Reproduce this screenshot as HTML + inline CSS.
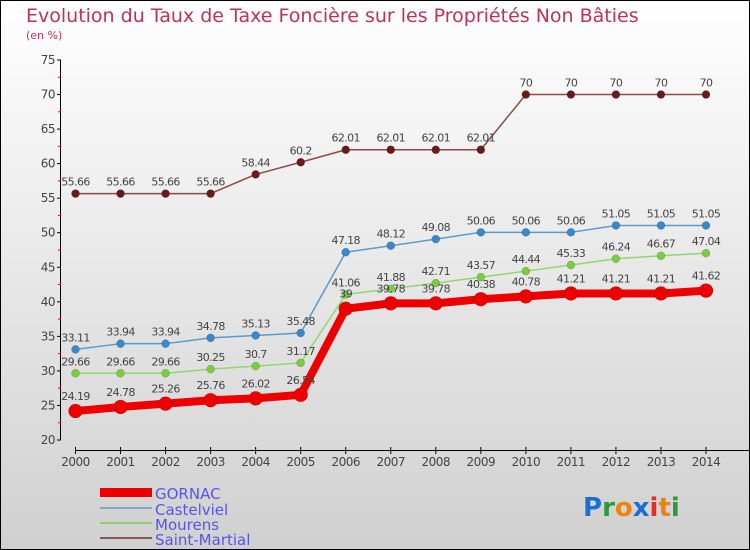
<!DOCTYPE html>
<html><head><meta charset="utf-8"><style>
body{margin:0;width:750px;height:550px;overflow:hidden}
svg{display:block;font-family:"DejaVu Sans","Liberation Sans",sans-serif}
</style></head><body>
<svg width="750" height="550" viewBox="0 0 750 550">
<defs><linearGradient id="bg" x1="0" y1="0" x2="0" y2="1"><stop offset="0" stop-color="#ffffff"/><stop offset="1" stop-color="#d0d0d0"/></linearGradient></defs>
<rect x="0.5" y="0.5" width="749" height="549" fill="url(#bg)" stroke="#000"/>
<text x="26" y="22" font-size="19" fill="#c0305a">Evolution du Taux de Taxe Foncière sur les Propriétés Non Bâties</text>
<text x="26" y="39" font-size="11" fill="#c0305a">(en %)</text>
<g id="axes"></g>
<g id="series"></g>
<g id="legend">
<rect x="100" y="488" width="52" height="9" fill="#e00"/>
<text x="155" y="499" font-size="15" fill="#5555ee">GORNAC</text>
<rect x="100" y="507" width="52" height="2" fill="#7aa9cc"/>
<text x="155" y="515" font-size="15" fill="#5555ee">Castelviel</text>
<rect x="100" y="522" width="52" height="2" fill="#8fcc70"/>
<text x="155" y="530" font-size="15" fill="#5555ee">Mourens</text>
<rect x="100" y="537" width="52" height="2" fill="#8a5555"/>
<text x="155" y="545" font-size="15" fill="#5555ee">Saint-Martial</text>
</g>
<text x="583" y="516" font-size="26" font-weight="bold"><tspan fill="#1a6fd0">P</tspan><tspan fill="#2a9a3a">r</tspan><tspan fill="#f08010">o</tspan><tspan fill="#1a6fd0">x</tspan><tspan fill="#e03020">i</tspan><tspan fill="#f08010">t</tspan><tspan fill="#2a9a3a">i</tspan></text>
</svg>
<script>
const years=[2000,2001,2002,2003,2004,2005,2006,2007,2008,2009,2010,2011,2012,2013,2014];
const yTicks=[20,25,30,35,40,45,50,55,60,65,70,75];
const gornac=[24.19,24.78,25.26,25.76,26.02,26.54,39,39.78,39.78,40.38,40.78,41.21,41.21,41.21,41.62];
const castelviel=[33.11,33.94,33.94,34.78,35.13,35.48,47.18,48.12,49.08,50.06,50.06,50.06,51.05,51.05,51.05];
const mourens=[29.66,29.66,29.66,30.25,30.7,31.17,41.06,41.88,42.71,43.57,44.44,45.33,46.24,46.67,47.04];
const saintMartial=[55.66,55.66,55.66,55.66,58.44,60.2,62.01,62.01,62.01,62.01,70,70,70,70,70];
const NS='http://www.w3.org/2000/svg';
const xs=i=>75.5+i*(706-75.5)/(years.length-1);
const ys=v=>440-(v-20)*(380/55);
function mk(tag,attrs,parent,txt){const e=document.createElementNS(NS,tag);for(const k in attrs)e.setAttribute(k,attrs[k]);if(txt!==undefined)e.textContent=txt;parent.appendChild(e);return e;}
const ax=document.getElementById('axes');
let e=mk('line',{x1:60.5,y1:60,x2:60.5,y2:440,stroke:'#000'},ax);


yTicks.forEach(t=>{const y=ys(t);
 mk('line',{x1:57,y1:y,x2:61,y2:y,stroke:'#000'},ax);
 if(t<75) mk('line',{x1:58,y1:ys(t+2.5),x2:61,y2:ys(t+2.5),stroke:'#f00'},ax);
 const l=mk('text',{x:55,y:y+4,'font-size':12,fill:'#444','text-anchor':'end','letter-spacing':'-0.5'},ax,String(t));
 
 
});
e=mk('line',{x1:75,y1:450.5,x2:750,y2:450.5,stroke:'#000'},ax);


years.forEach((yr,i)=>{const x=xs(i);
 mk('line',{x1:x,y1:447,x2:x,y2:454,stroke:'#000'},ax);
 const l=mk('text',{x:x,y:466,'font-size':12,fill:'#444','text-anchor':'middle','letter-spacing':'-0.5'},ax,String(yr));
 
 
});
const sg=document.getElementById('series');
function draw(vals,name,color,dot,w,r){
 const g=mk('g',{},sg);
 
 
 const p=mk('polyline',{points:vals.map((v,i)=>xs(i)+','+ys(v)).join(' '),fill:'none',stroke:color,'stroke-width':w,'stroke-linejoin':'round'},g);
 
 
 vals.forEach((v,i)=>{
  const c=mk('circle',{cx:xs(i),cy:ys(v),r:r,fill:dot,stroke:'rgba(0,0,0,0.25)','stroke-width':0.5},g);
  
  
  const t=mk('text',{x:xs(i),y:ys(v)-8-(r>4?3:0),'font-size':11,fill:'#444','text-anchor':'middle','letter-spacing':'-0.6'},g,String(v));
  
  
 });
}
draw(saintMartial,'saint-martial','#8a4a4a','#6a1a1a',1.5,4);
draw(castelviel,'castelviel','#5a9acc','#3a88c8',1.5,4);
draw(mourens,'mourens','#90d870','#7acc40',1.5,4);
draw(gornac,'gornac','#ee0000','#ee0000',8,7);
</script>
</body></html>
